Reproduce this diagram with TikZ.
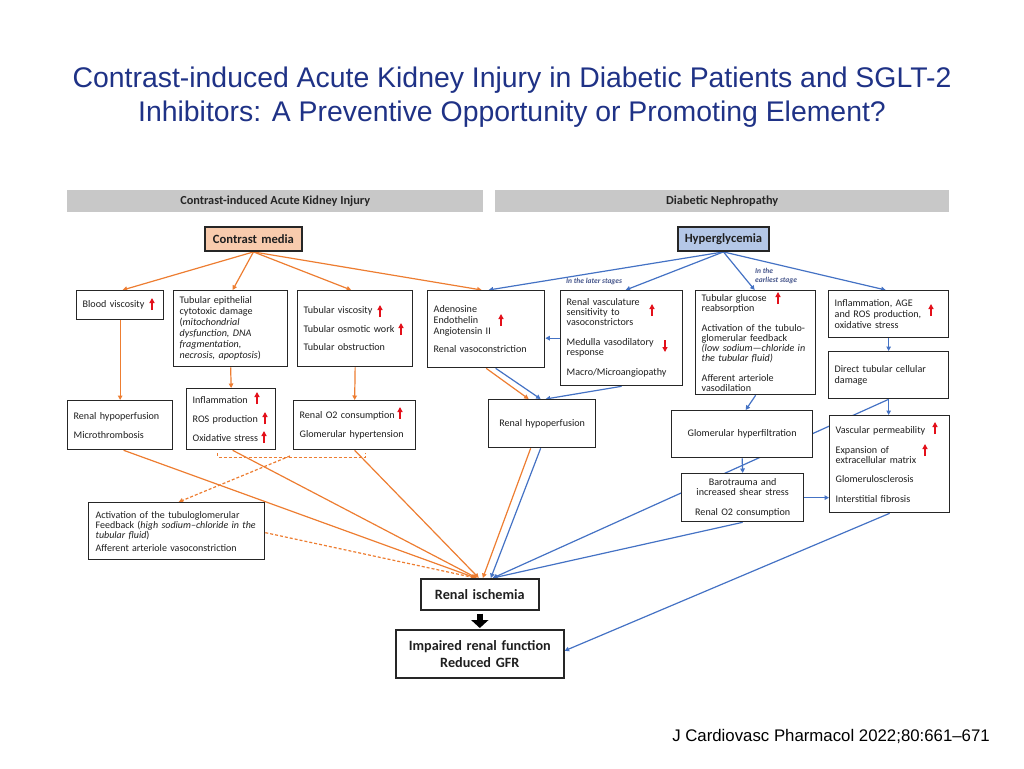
\documentclass[tikz,border=0pt]{standalone}
\usepackage{fontspec}
\setmainfont{Carlito}
\newfontfamily\arialf{Liberation Sans}
\usetikzlibrary{arrows.meta,calc}
\definecolor{org}{HTML}{ED7D31}
\definecolor{blu}{HTML}{4472C4}
\definecolor{redar}{HTML}{E3101A}
\definecolor{ttl}{HTML}{1F3286}
\definecolor{hdr}{HTML}{C8C8C8}
\definecolor{peach}{HTML}{F8CBAD}
\definecolor{lblue}{HTML}{B4C7E7}
\definecolor{stg}{HTML}{44548A}
\pgfdeclarelayer{bg}
\pgfsetlayers{bg,main}
\newcommand\myup[2]{\draw[uparr] (#1,#2+6) -- (#1,#2-6);}
\newcommand\mydown[2]{\draw[uparr] (#1,#2-6) -- (#1,#2+6);}
\begin{document}
\begin{tikzpicture}[x=1pt,y=-1pt,
  box/.style={draw=black!85, line width=1.3pt, fill=white, inner xsep=6pt, inner ysep=0pt,
    align=left, text=black!88, font=\fontsize{10.1}{11}\selectfont, anchor=north west},
  hdrbar/.style={fill=hdr, inner sep=0pt, anchor=north west, minimum height=22pt,
    font=\bfseries\fontsize{12.3}{13}\selectfont, text=black!85},
  srcbox/.style={box, line width=1.9pt, align=center, font=\bfseries\fontsize{12.6}{14}\selectfont},
  endbox/.style={box, line width=1.6pt, align=center, font=\bfseries\fontsize{14.2}{17}\selectfont},
  oa/.style={draw=org, line width=1.2pt, -{Triangle[length=4.5pt,width=4.5pt]}},
  ba/.style={draw=blu, line width=1.2pt, -{Triangle[length=4.5pt,width=4.5pt]}},
  od/.style={draw=org, line width=1.2pt, dash pattern=on 3pt off 2pt},
  oda/.style={od, -{Triangle[length=4.5pt,width=4.5pt]}},
  uparr/.style={draw=redar, line width=1.4pt, -{Triangle[length=5pt,width=5pt]}},
  stglab/.style={text=stg, font=\bfseries\itshape\fontsize{7.5}{8.5}\selectfont, inner sep=0pt, align=left}
]
\useasboundingbox (0,0) rectangle (1024,768);

% title and footer
\node[font=\arialf\fontsize{28.4}{34}\selectfont, text=ttl, align=center] (title) at (512,97)
  {Contrast-induced Acute Kidney Injury in Diabetic Patients and SGLT-2\\Inhibitors: A Preventive Opportunity or Promoting Element?};
\node[font=\arialf\fontsize{16.8}{18}\selectfont, text=black, anchor=east, inner sep=0pt] (foot) at (990,736)
  {J Cardiovasc Pharmacol 2022;80:661–671};

% header bars
\node[hdrbar, minimum width=416pt] (hl) at (67,190) {Contrast-induced Acute Kidney Injury};
\node[hdrbar, minimum width=454pt] (hr) at (495,190) {Diabetic Nephropathy};

% source boxes
\node[srcbox, fill=peach, minimum width=97pt, minimum height=24pt, text width=85pt] (cm) at (204,226) {Contrast media};
\node[srcbox, fill=lblue, minimum width=91pt, minimum height=24pt, text width=79pt] (hg) at (677,226) {Hyperglycemia};

% stage labels
\node[stglab, anchor=west] (ls) at (566,281) {In the later stages};
\node[stglab, anchor=west] (es) at (755,276) {In the\\earliest stage};

% top row
\node[box, minimum width=87pt, minimum height=29pt, text width=75pt] (bv) at (76,290) {Blood viscosity};
\node[box, minimum width=114pt, minimum height=76pt, text width=102pt] (te) at (173,290)
  {Tubular epithelial\\ cytotoxic damage\\ (\textit{mitochondrial}\\ \textit{dysfunction, DNA}\\ \textit{fragmentation,}\\ \textit{necrosis, apoptosis})};
\node[box, minimum width=115pt, minimum height=76pt, text width=103pt] (tv) at (297,290)
  {Tubular viscosity\\[7.5pt] Tubular osmotic work\\[7.5pt] Tubular obstruction};
\node[box, minimum width=117pt, minimum height=77pt, text width=105pt] (ad) at (427,290)
  {Adenosine\\ Endothelin\\ Angiotensin II\\[7pt] Renal vasoconstriction};
\node[box, minimum width=122pt, minimum height=95pt, text width=110pt, font=\fontsize{10.1}{10}\selectfont] (rv) at (560,290)
  {Renal vasculature\\ sensitivity to\\ vasoconstrictors\\[10pt] Medulla vasodilatory\\ response\\[10pt] Macro/Microangiopathy};
\node[box, minimum width=120pt, minimum height=104pt, text width=108pt, font=\fontsize{10.1}{10}\selectfont] (tg) at (695,290)
  {Tubular glucose\\ reabsorption\\[10pt] Activation of the tubulo-\\ glomerular feedback\\ \textit{(low sodium—chloride in}\\ \textit{the tubular fluid)}\\[10pt] Afferent arteriole\\ vasodilation};
\node[box, minimum width=120pt, minimum height=47pt, text width=108pt] (ia) at (828,290)
  {Inflammation, AGE\\ and ROS production,\\ oxidative stress};
\node[box, minimum width=120pt, minimum height=47pt, text width=108pt] (dt) at (828,351)
  {Direct tubular cellular\\ damage};

% middle row
\node[box, minimum width=105pt, minimum height=49pt, text width=93pt] (rh1) at (67,400)
  {Renal hypoperfusion\\[8pt] Microthrombosis};
\node[box, minimum width=89pt, minimum height=61pt, text width=77pt] (inf) at (186,388)
  {Inflammation\\[8pt] ROS production\\[8pt] Oxidative stress};
\node[box, minimum width=122pt, minimum height=49pt, text width=110pt] (ro) at (293,400)
  {Renal O2 consumption\\[8pt] Glomerular hypertension};
\node[box, minimum width=107pt, minimum height=48pt, text width=95pt, align=center] (rh2) at (488,399)
  {Renal hypoperfusion};
\node[box, minimum width=141pt, minimum height=47pt, text width=129pt, align=center] (gh) at (671,410)
  {Glomerular hyperfiltration};
\node[box, minimum width=120pt, minimum height=97pt, text width=108pt, font=\fontsize{10.1}{10}\selectfont] (vp) at (829,415)
  {Vascular permeability\\[10pt] Expansion of\\ extracellular matrix\\[9pt] Glomerulosclerosis\\[10pt] Interstitial fibrosis};
\node[box, minimum width=122pt, minimum height=48pt, text width=110pt, align=center, font=\fontsize{10.1}{10}\selectfont] (bt) at (681,473)
  {Barotrauma and\\ increased shear stress\\[10pt] Renal O2 consumption};

% lower
\node[box, minimum width=176pt, minimum height=57pt, inner xsep=7pt, text width=162pt, font=\fontsize{10}{10}\selectfont] (act) at (88,502)
  {Activation of the tubuloglomerular\\ Feedback (\textit{high sodium–chloride in the}\\ \textit{tubular fluid})\\[3pt] Afferent arteriole vasoconstriction};
\node[endbox, minimum width=118pt, minimum height=31pt, text width=106pt] (ri) at (420,578) {Renal ischemia};
\node[endbox, minimum width=168pt, minimum height=48pt, text width=156pt] (irf) at (395,629)
  {Impaired renal function\\ Reduced GFR};

% connectors
\begin{pgfonlayer}{bg}
\draw[oa] (cm.south) -- ([xshift=2.5pt]bv.north);
\draw[oa] (cm.south) -- ([xshift=2pt]te.north);
\draw[oa] (cm.south) -- ([xshift=-4pt]tv.north);
\draw[oa] (cm.south) -- ([xshift=-4.5pt]ad.north);
\draw[ba] (hg.south) -- ([xshift=2.5pt]ad.north);
\draw[ba] (hg.south) -- ([xshift=4pt]rv.north);
\draw[ba] (hg.south) -- ([xshift=-1pt]tg.north);
\draw[ba] (hg.south) -- ([xshift=-3pt]ia.north);

\draw[oa] (bv.south) -- (rh1.north);
\draw[oa] (te.south) -- (inf.north);
\draw[oa] (tv.south) -- (ro.north);
\draw[ba] (rv.west) -- (rv.west -| ad.east);
\draw[oa] (ad.south) -- ([xshift=-13.5pt]rh2.north);
\draw[ba] ([xshift=9.5pt]ad.south) -- ([xshift=-1.5pt]rh2.north);
\draw[ba] (rv.south) -- ([xshift=3.5pt]rh2.north);
\draw[ba] (tg.south) -- ([xshift=3.5pt]gh.north);
\draw[ba] (ia.south) -- (dt.north);
\draw[ba] (dt.south) -- ([xshift=-1pt]vp.north);
\draw[ba] (dt.south) -- ([xshift=13pt]ri.north);
\draw[ba] (gh.south) -- (bt.north);
\draw[ba] (bt.east) -- (bt.east -| vp.west);
\draw[ba] (bt.south) -- ([xshift=13pt]ri.north);
\draw[ba] (vp.south) -- ([yshift=3pt]irf.east);
\draw[oa] ([xshift=-11.5pt]rh2.south) -- ([xshift=3pt]ri.north);
\draw[ba] ([xshift=-1.5pt]rh2.south) -- ([xshift=11pt]ri.north);
\draw[oa] ([xshift=3.5pt]rh1.south) -- ([xshift=-4pt]ri.north);
\draw[oa] ([xshift=1.5pt]inf.south) -- ([xshift=-3pt]ri.north);
\draw[oa] (ro.south) -- ([xshift=-1pt]ri.north);
\draw[od] ([xshift=-13.5pt,yshift=-3pt]inf.south) -- ++(0,4) -| ([xshift=11pt,yshift=-3pt]ro.south);
\coordinate (brk) at (290,456);
\draw[oda] (brk) -- ([xshift=2pt]act.north);
\draw[oda] ([yshift=-1.5pt]act.east) -- ([xshift=-4pt]ri.north);
\end{pgfonlayer}

% block arrow
\draw[line width=6.5pt, -{Triangle[length=8pt,width=17pt]}, shorten <=3pt, shorten >=1pt] (ri.south) -- (irf.north);

% red indicator arrows
\myup{152}{304}
\myup{380}{311}
\myup{401}{329}
\myup{501}{320}
\myup{652}{310}
\mydown{665}{346}
\myup{778}{298}
\myup{931}{310}
\myup{257}{398}
\myup{265}{418}
\myup{264}{437}
\myup{400}{413}
\myup{935}{428}
\myup{925}{450}
\end{tikzpicture}
\end{document}
